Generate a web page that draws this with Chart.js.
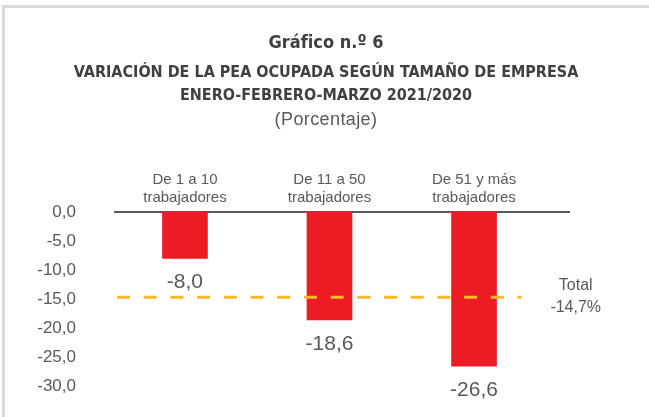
<!DOCTYPE html>
<html lang="es">
<head>
<meta charset="utf-8">
<title>Gráfico n.º 6</title>
<script src="https://cdn.jsdelivr.net/npm/chart.js@4.4.1/dist/chart.umd.min.js"></script>
<style>
    html, body {
        margin: 0;
        padding: 0;
        background: #ffffff;
    }
    .frame {
        position: relative;
        width: 649px;
        height: 417px;
        overflow: hidden;
    }
    .frame::before {
        content: '';
        position: absolute;
        left: 2px;
        top: 5px;
        width: 700px;
        height: 500px;
        border-left: 3px solid #d9d9d9;
        border-top: 3px solid #d9d9d9;
    }
    .titles {
        position: absolute;
        left: 0;
        top: 0;
        width: 652px;
        text-align: center;
        color: #404040;
        font-family: "Liberation Sans Narrow", "DejaVu Sans Condensed", Roboto, sans-serif;
        z-index: 2;
    }
    .titles div {
        position: absolute;
        left: 0;
        width: 100%;
        white-space: nowrap;
    }
    .t1 { top: 31px; font-size: 18px; font-weight: bold; }
    .t2 { top: 62px; font-size: 16px; font-weight: bold; }
    .t3 { top: 85px; font-size: 16px; font-weight: bold; }
    .t4 { top: 109px; font-size: 18px; letter-spacing: 0.4px; font-family: "Liberation Sans", Arial, sans-serif; color: #595959; }
    #chartWrap {
        position: absolute;
        left: 0;
        top: 0;
        width: 649px;
        height: 417px;
    }
</style>
</head>
<body>
<div class="frame">
    <div class="titles">
        <div class="t1">Gráfico n.º 6</div>
        <div class="t2">VARIACIÓN DE LA PEA OCUPADA SEGÚN TAMAÑO DE EMPRESA</div>
        <div class="t3">ENERO-FEBRERO-MARZO 2021/2020</div>
        <div class="t4">(Porcentaje)</div>
    </div>
    <div id="chartWrap"><canvas id="peaChart" width="649" height="417"></canvas></div>
</div>

<script>
// Data
const categories = [
    ['De 1 a 10', 'trabajadores'],
    ['De 11 a 50', 'trabajadores'],
    ['De 51 y más', 'trabajadores']
];
const variation = [-8.0, -18.6, -26.6];
const totalValue = -14.7;
const totalLabel = ['Total', '-14,7%'];
const yTicks = [0, -5, -10, -15, -20, -25, -30];

const textColor = '#595959';
const fmt = v => v.toFixed(1).replace('.', ',');

// value labels under each bar + the "Total" note
const labelsPlugin = {
    id: 'barLabels',
    afterDatasetsDraw(chart) {
        const ctx = chart.ctx;
        const barMeta = chart.getDatasetMeta(1);
        ctx.save();
        ctx.fillStyle = textColor;
        ctx.textAlign = 'center';
        ctx.textBaseline = 'middle';
        ctx.font = '21px "Liberation Sans", Arial, sans-serif';
        barMeta.data.forEach((bar, i) => {
            ctx.fillText(fmt(variation[i]), bar.x, bar.y + 24);
        });

        const lineMeta = chart.getDatasetMeta(0);
        const end = lineMeta.data[lineMeta.data.length - 1];
        ctx.font = '16px "Liberation Sans", Arial, sans-serif';
        ctx.fillText(totalLabel[0], end.x + 54, end.y - 12);
        ctx.fillText(totalLabel[1], end.x + 54, end.y + 10);
        ctx.restore();
    }
};

const ctx = document.getElementById('peaChart').getContext('2d');

const peaChart = new Chart(ctx, {
    data: {
        datasets: [
            {
                type: 'line',
                label: 'Total',
                data: [{ x: -0.47, y: totalValue }, { x: 2.33, y: totalValue }],
                borderColor: '#fbb829',
                borderWidth: 3,
                borderDash: [13, 13.7],
                pointRadius: 0,
                fill: false,
                order: 0
            },
            {
                type: 'bar',
                label: 'Variación',
                data: variation.map((v, i) => ({ x: i, y: v })),
                backgroundColor: '#ed1c24',
                borderWidth: 0,
                barThickness: 45,
                order: 1
            }
        ]
    },
    options: {
        responsive: false,
        animation: false,
        layout: {
            padding: { left: 0, right: 80, top: 0, bottom: 31 }
        },
        plugins: {
            legend: { display: false },
            tooltip: { enabled: false }
        },
        scales: {
            x: {
                type: 'linear',
                position: 'top',
                offset: false,
                min: -0.484,
                max: 2.657,
                grid: { display: false, drawTicks: false },
                border: { display: true, color: '#595959', width: 2 },
                afterFit: function (scale) {
                    scale.height = 212;
                },
                afterBuildTicks: function (scale) {
                    scale.ticks = categories.map((c, i) => ({ value: i }));
                },
                ticks: {
                    autoSkip: false,
                    maxRotation: 0,
                    padding: 5,
                    color: textColor,
                    font: { family: '"Liberation Sans", Arial, sans-serif', size: 15, lineHeight: 1.2 },
                    callback: function (value) {
                        return categories[value];
                    }
                }
            },
            y: {
                min: -30,
                max: 0,
                grid: { display: false, drawTicks: false },
                border: { display: false },
                afterFit: function (scale) {
                    scale.width = 115;
                    // the tick padding would otherwise be added below the plot
                    scale.paddingTop = 10;
                    scale.paddingBottom = 10;
                },
                afterBuildTicks: function (scale) {
                    scale.ticks = yTicks.map(v => ({ value: v }));
                },
                ticks: {
                    padding: 39,
                    color: textColor,
                    font: { family: '"Liberation Sans", Arial, sans-serif', size: 17 },
                    callback: function (value) {
                        return fmt(value);
                    }
                }
            }
        }
    },
    plugins: [labelsPlugin]
});
</script>
</body>
</html>
